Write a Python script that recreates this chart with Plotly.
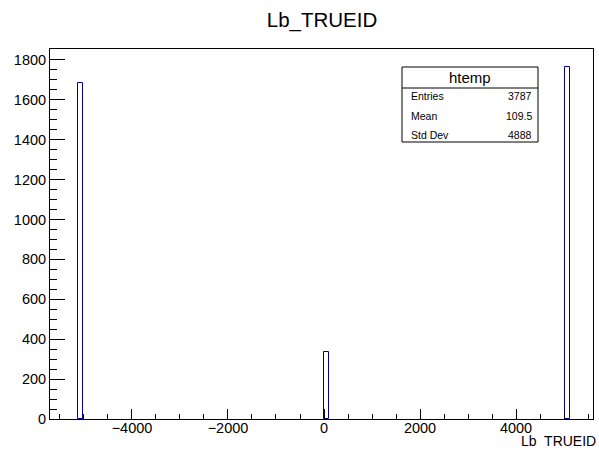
import numpy as np
import plotly.graph_objects as go

# ---- data ----
particle_ids = [-5122, 0, 5122]          # Lb_TRUEID values
counts = [1685, 336, 1766]               # entries per value
bin_start, bin_end, bin_size = -5700, 5700, 114
x_range = [-5708, 5604]
y_range = [0, 1854.3]
x_tickvals = [-4000, -2000, 0, 2000, 4000]
y_tickvals = [0, 200, 400, 600, 800, 1000, 1200, 1400, 1600, 1800]

# statistics box, as printed on the picture
stat_labels = ["Entries", "Mean", "Std Dev"]
stat_values = ["3787", "109.5", "4888"]

FONT = "Liberation Sans, Arial, Helvetica, sans-serif"
W, H = 599, 451
L, R, T, B = 50, 593, 49, 419  # frame in pixels


def px_x(px):
    return (px - L) / (R - L)


def px_y(py):
    return (B - py) / (B - T)


fig = go.Figure()
fig.add_trace(go.Histogram(
    x=particle_ids, y=counts, histfunc="sum",
    xbins=dict(start=bin_start, end=bin_end, size=bin_size),
    autobinx=False,
    marker=dict(color="white", line=dict(color="#000099", width=1)),
    showlegend=False,
))

fig.update_layout(
    width=W, height=H,
    margin=dict(l=L, r=W - R, t=T, b=H - B, pad=0),
    paper_bgcolor="white", plot_bgcolor="white",
    bargap=0,
    font=dict(family=FONT, color="black"),
    title=dict(text="Lb_TRUEID", x=px_x(322), xref="paper", xanchor="center",
               y=1 - 20 / H, yref="container", yanchor="middle",
               font=dict(size=20.5, family=FONT, color="black")),
)

fig.update_xaxes(
    range=x_range, tickvals=x_tickvals, ticks="inside", ticklen=10, tickwidth=1,
    tickcolor="black", showline=True, linecolor="black", linewidth=1, mirror=True,
    showgrid=False, zeroline=False, tickfont=dict(size=14.5, family=FONT),
    ticklabelstandoff=-4,
    minor=dict(dtick=500, tick0=0, ticks="inside", ticklen=5, tickcolor="black", showgrid=False),
)
fig.update_yaxes(
    range=y_range, tickvals=y_tickvals, ticks="inside", ticklen=15, tickwidth=1,
    tickcolor="black", showline=True, linecolor="black", linewidth=1, mirror=True,
    showgrid=False, zeroline=False, tickfont=dict(size=14.5, family=FONT),
    ticklabelstandoff=0,
    minor=dict(dtick=50, tick0=0, ticks="inside", ticklen=7, tickcolor="black", showgrid=False),
)

# x-axis title at the right end
fig.add_annotation(text="Lb  TRUEID", xref="paper", yref="paper",
                   x=px_x(598), y=px_y(441), xanchor="right", yanchor="middle",
                   showarrow=False, font=dict(size=14, family=FONT, color="black"))

# stats box
bx0, bx1, by0, by1, bsep = 402, 538, 67, 142, 88
fig.add_shape(type="rect", xref="paper", yref="paper",
              x0=px_x(bx0), x1=px_x(bx1), y0=px_y(by1), y1=px_y(by0),
              line=dict(color="black", width=1), fillcolor="white", layer="above")
fig.add_shape(type="line", xref="paper", yref="paper",
              x0=px_x(bx0), x1=px_x(bx1), y0=px_y(bsep), y1=px_y(bsep),
              line=dict(color="black", width=1), layer="above")
fig.add_annotation(text="htemp", xref="paper", yref="paper",
                   x=px_x((bx0 + bx1) / 2), y=px_y(77), xanchor="center", yanchor="middle",
                   showarrow=False, font=dict(size=15, family=FONT, color="black"))
row_y = [96, 115.5, 134.5]
for lab, val, ry in zip(stat_labels, stat_values, row_y):
    fig.add_annotation(text=lab, xref="paper", yref="paper",
                       x=px_x(409), y=px_y(ry), xanchor="left", yanchor="middle",
                       showarrow=False, font=dict(size=10.5, family=FONT, color="black"))
    fig.add_annotation(text=val, xref="paper", yref="paper",
                       x=px_x(534), y=px_y(ry), xanchor="right", yanchor="middle",
                       showarrow=False, font=dict(size=10.5, family=FONT, color="black"))

fig.write_html("out.html")
